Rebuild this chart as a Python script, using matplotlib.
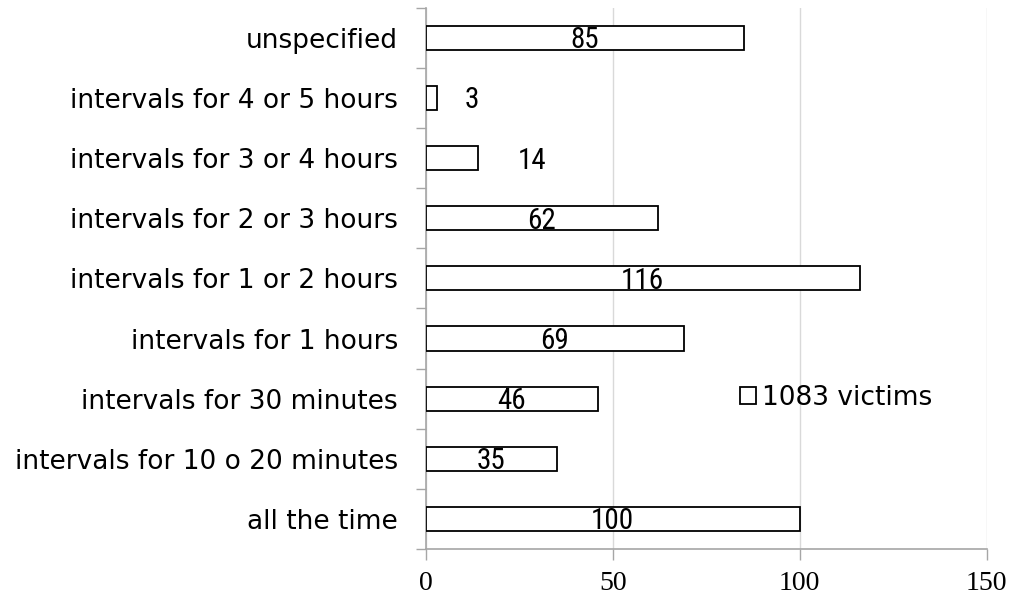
import numpy as np
import matplotlib
matplotlib.use('Agg')
import matplotlib.pyplot as plt
from matplotlib import font_manager

categories = ['all the time', 'intervals for 10 o 20 minutes', 'intervals for 30 minutes',
              'intervals for 1 hours', 'intervals for 1 or 2 hours', 'intervals for 2 or 3 hours',
              'intervals for 3 or 4 hours', 'intervals for 4 or 5 hours', 'unspecified']
victims = [100, 35, 46, 69, 116, 62, 14, 3, 85]
legend_label = '1083 victims'
xticks = [0, 50, 100, 150]

# labels for the short bars sit to the right of the bar (shift in data units)
outside_shift = {3: 9.2, 14: 14.3}

def pick_font(names):
    for n in names:
        try:
            font_manager.findfont(n, fallback_to_default=False)
            return n
        except Exception:
            pass
    return 'DejaVu Sans'

narrow = pick_font(['Liberation Sans Narrow', 'DejaVu Sans Condensed', 'Roboto Condensed'])

grey = '#a6a6a6'
fig = plt.figure(figsize=(10.14, 5.98), dpi=100)
ax = fig.add_axes([0.420, 0.082, 0.553, 0.905])

ys = np.arange(len(categories))
bars = ax.barh(ys, victims, height=0.4, color='white', edgecolor='black', linewidth=1.3,
               zorder=3, label=legend_label)

for y, v in zip(ys, victims):
    x = v + outside_shift[v] if v in outside_shift else v / 2
    ax.text(x, y - 0.04, str(v), ha='center', va='center', fontsize=21,
            family=[narrow, 'DejaVu Sans'], zorder=4)

ax.set_xlim(0, 150)
ax.set_ylim(-0.5, len(categories) - 0.5)
ax.set_xticks(xticks)
ax.set_xticklabels([str(t) for t in xticks], family='Liberation Serif', fontsize=20)
ax.set_yticks(ys)
ax.set_yticklabels(categories, fontsize=19, family='DejaVu Sans')
ax.set_yticks(np.arange(len(categories) + 1) - 0.5, minor=True)
ax.tick_params(axis='y', which='major', length=0, pad=20)
ax.tick_params(axis='y', which='minor', length=7, color=grey, width=1)
ax.tick_params(axis='x', length=8, color=grey, width=1, pad=8)

ax.grid(axis='x', color='#d9d9d9', linewidth=1, zorder=0)
for s in ['top', 'right']:
    ax.spines[s].set_visible(False)
for s in ['left', 'bottom']:
    ax.spines[s].set_color(grey)
    ax.spines[s].set_linewidth(1.2)

ax.legend(loc='center left', bbox_to_anchor=(0.560, 0.279), frameon=False, fontsize=19,
          borderpad=0, borderaxespad=0, handlelength=0.6, handleheight=0.6, handletextpad=0.25)

fig.savefig('out.png', dpi=100)
